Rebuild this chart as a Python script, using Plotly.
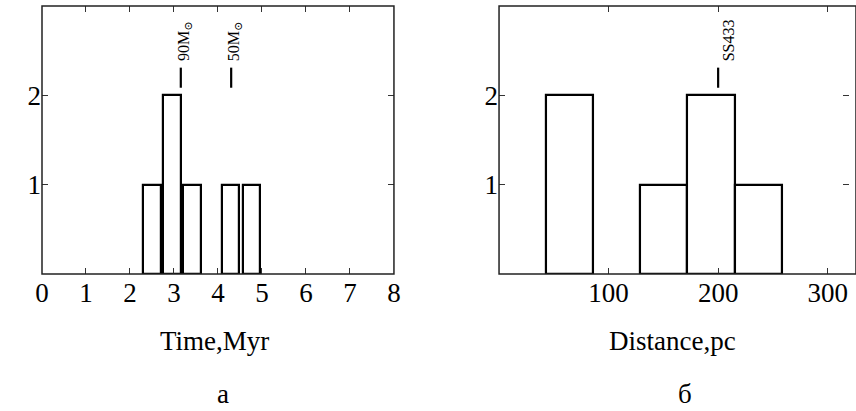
import plotly.graph_objects as go

# ---- data ----
time_left = [2.30, 2.75, 3.21, 4.09, 4.56]
time_right = [2.71, 3.155, 3.61, 4.48, 4.96]
time_counts = [1, 2, 1, 1, 1]

dist_left = [43, 129, 172, 215]
dist_right = [86, 172, 215, 258]
dist_counts = [2, 1, 2, 1]

time_marks = [3.155, 4.30]
time_mark_labels = ["90M<sub>⊙</sub>", "50M<sub>⊙</sub>"]
dist_marks = [200]
dist_mark_labels = ["SS433"]
mark_lo, mark_hi = 2.085, 2.31

time_ticks = [0, 1, 2, 3, 4, 5, 6, 7, 8]
dist_ticks = [100, 200, 300]
count_ticks = [1, 2]

W, H = 856, 411
ML, MR, MT, MB = 42, 0, 6, 136.5
PW = W - ML - MR
PH = H - MT - MB

FONT = "Liberation Serif, DejaVu Serif, Times New Roman, serif"

fig = go.Figure()

def add_hist(lefts, rights, counts, xa, ya):
    fig.add_trace(go.Bar(
        x=[(l + r) / 2 for l, r in zip(lefts, rights)],
        y=counts,
        width=[r - l for l, r in zip(lefts, rights)],
        base=0,
        marker=dict(color="white", line=dict(color="black", width=2.2)),
        xaxis=xa, yaxis=ya, showlegend=False, hoverinfo="skip"))

add_hist(time_left, time_right, time_counts, "x", "y")
add_hist(dist_left, dist_right, dist_counts, "x2", "y2")

def add_marks(marks, labels, xa, ya, shifts):
    for m, lab, s in zip(marks, labels, shifts):
        fig.add_trace(go.Scatter(x=[m, m], y=[mark_lo, mark_hi], mode="lines",
                                 line=dict(color="black", width=2.2),
                                 xaxis=xa, yaxis=ya, showlegend=False, hoverinfo="skip"))
        fig.add_annotation(x=m, y=mark_hi + 0.05, xref=xa, yref=ya, text=lab,
                           textangle=-90, showarrow=False, xanchor="center",
                           yanchor="bottom", xshift=s,
                           font=dict(family=FONT, size=16, color="black"))

add_marks(time_marks, time_mark_labels, "x", "y", [3, 3])
add_marks(dist_marks, dist_mark_labels, "x2", "y2", [10])

d1 = [0, 355 / PW]
d2 = [(503 - ML) / PW, 1.0]
x2max = (W - 503) / 1.105

axis_common = dict(showline=False, mirror="ticks", ticks="inside", ticklen=6,
                   tickwidth=1.3, tickcolor="#333", showgrid=False, zeroline=False,
                   tickfont=dict(family=FONT, size=27, color="black"))

fig.update_layout(
    width=W, height=H, margin=dict(l=ML, r=MR, t=MT, b=MB),
    paper_bgcolor="white", plot_bgcolor="white",
    xaxis=dict(domain=d1, range=[0, 8], tickvals=time_ticks, anchor="y", **axis_common),
    yaxis=dict(domain=[0, 1], range=[0, 3.0], tickvals=count_ticks, anchor="x",
               ticksuffix="\u00a0", **axis_common),
    xaxis2=dict(domain=d2, range=[0, x2max], tickvals=dist_ticks, anchor="y2", **axis_common),
    yaxis2=dict(domain=[0, 1], range=[0, 3.0], tickvals=count_ticks, anchor="x2",
                ticksuffix="\u00a0", **axis_common),
    bargap=0,
)

# frames
fig.add_shape(type="rect", xref="x domain", yref="y domain", x0=0, x1=1, y0=0, y1=1,
              line=dict(color="#222", width=1.5), layer="above")
fig.add_shape(type="rect", xref="x2 domain", yref="y2 domain", x0=0, x1=1.02, y0=0, y1=1,
              line=dict(color="#222", width=1.5), layer="above")

def px_to_paper(px, py):
    return (px - ML) / PW, (H - MB - py) / PH

for txt, px, py, size in [("Time,Myr", 216.5, 342, 27), ("Distance,pc", 677.5, 342, 27),
                          ("а", 225, 395, 27), ("б", 691, 395, 27)]:
    xp, yp = px_to_paper(px, py)
    fig.add_annotation(x=xp, y=yp, xref="paper", yref="paper", text=txt, showarrow=False,
                       xanchor="center", yanchor="middle",
                       font=dict(family=FONT, size=size, color="black"))

fig.write_html("out.html", config={"displayModeBar": False},
               post_script="document.body.style.margin='0';document.body.style.overflow='hidden';")
